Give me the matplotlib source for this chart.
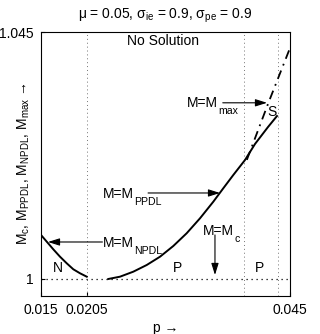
import numpy as np
import matplotlib
matplotlib.use('Agg')
import matplotlib.pyplot as plt

plt.rcParams['font.family'] = ['Liberation Sans', 'DejaVu Sans']
plt.rcParams['mathtext.fontset'] = 'custom'
plt.rcParams['mathtext.rm'] = 'Liberation Sans'
plt.rcParams['mathtext.it'] = 'Liberation Sans'
plt.rcParams['mathtext.bf'] = 'Liberation Sans'

# curves
p_npdl = [0.0150, 0.01569, 0.01648, 0.01729, 0.01810, 0.01889, 0.0197, 0.02051]
m_npdl = [1.00802, 1.00680, 1.00541, 1.00406, 1.00286, 1.00177, 1.00104, 1.00042]

p_ppdl = [0.02311, 0.02452, 0.02612, 0.02774, 0.02934, 0.03094, 0.03255, 0.03416,
          0.03576, 0.03696, 0.03817, 0.03958, 0.04078, 0.04235, 0.04343]
m_ppdl = [1.0, 1.00042, 1.00133, 1.00255, 1.00406, 1.00601, 1.00833, 1.01106,
          1.01408, 1.01652, 1.01895, 1.02168, 1.02459, 1.02769, 1.02969]

p_max = [0.0398, 0.0424, 0.0449]
m_max = [1.0217, 1.0321, 1.0417]

p_lines = [0.0205, 0.0395, 0.0435]   # vertical dotted lines

xticks = [0.015, 0.0205, 0.045]
xticklabels = ['0.015', '0.0205', '0.045']
yticks = [1, 1.045]
yticklabels = ['1', '1.045']

fig = plt.figure(figsize=(3.2, 3.34), dpi=100)
ax = fig.add_axes([41/320, 38/334, 249/320, 264/334])

for p in p_lines:
    ax.axvline(p, color='0.45', ls=(0, (1, 3)), lw=0.7)
ax.axhline(1.0, color='k', ls=(0, (1, 3)), lw=0.9)

ax.plot(p_npdl, m_npdl, 'k-', lw=1.4)
ax.plot(p_ppdl, m_ppdl, 'k-', lw=1.4)
ax.plot(p_max, m_max, 'k', ls=(0, (5, 3, 1, 3)), lw=1.3)

ax.set_xlim(0.015, 0.045)
ax.set_ylim(0.9969, 1.045)
ax.set_xticks(xticks)
ax.set_xticklabels(xticklabels)
ax.set_yticks(yticks)
ax.set_yticklabels(yticklabels)
ax.tick_params(direction='in', length=3, labelsize=10, pad=5)

ap = dict(arrowstyle='-|>,head_length=0.7,head_width=0.22', color='k', lw=0.8,
          shrinkA=0, shrinkB=0)
fs = 10


def mlabel(x, y, sub):
    # MATLAB-like label: big subscript placed low after 'M=M'
    t = ax.text(x, y, 'M=M', ha='left', va='baseline', fontsize=fs)
    ax.annotate(sub, xy=(1, 0), xycoords=t, xytext=(0.4, -3.2),
                textcoords='offset points', ha='left', va='baseline', fontsize=7.6)


ax.text(0.0297, 1.0434, 'No Solution', ha='center', va='center', fontsize=fs)

ax.annotate('', xy=(0.04223, 1.0321), xytext=(0.0369, 1.0321), arrowprops=ap)
mlabel(0.03259, 1.03133, 'max')
ax.text(0.04283, 1.03042, 'S', ha='center', va='center', fontsize=fs)

ax.annotate('', xy=(0.03657, 1.01567), xytext=(0.0279, 1.01567), arrowprops=ap)
mlabel(0.02247, 1.01476, 'PPDL')

ax.annotate('', xy=(0.01584, 1.00674), xytext=(0.0224, 1.00674), arrowprops=ap)
mlabel(0.02247, 1.00583, 'NPDL')

ax.annotate('', xy=(0.03596, 1.00073), xytext=(0.03596, 1.00802), arrowprops=ap)
mlabel(0.03452, 1.00802, 'c')

ax.text(0.01705, 1.0020, 'N', ha='center', va='center', fontsize=fs)
ax.text(0.0315, 1.0020, 'P', ha='center', va='center', fontsize=fs)
ax.text(0.04138, 1.0020, 'P', ha='center', va='center', fontsize=fs)

ax.set_title(r'μ = 0.05, σ$_{\mathrm{ie}}$ = 0.9, σ$_{\mathrm{pe}}$ = 0.9', fontsize=fs, pad=10)
ax.set_xlabel('p →', fontsize=fs, labelpad=3)
ax.set_ylabel(r'M$_{\mathrm{c}}$, M$_{\mathrm{PPDL}}$, M$_{\mathrm{NPDL}}$, M$_{\mathrm{max}}$ →', fontsize=fs)
ax.yaxis.set_label_coords(-0.036, 0.5)

fig.savefig('out.png', dpi=100)
